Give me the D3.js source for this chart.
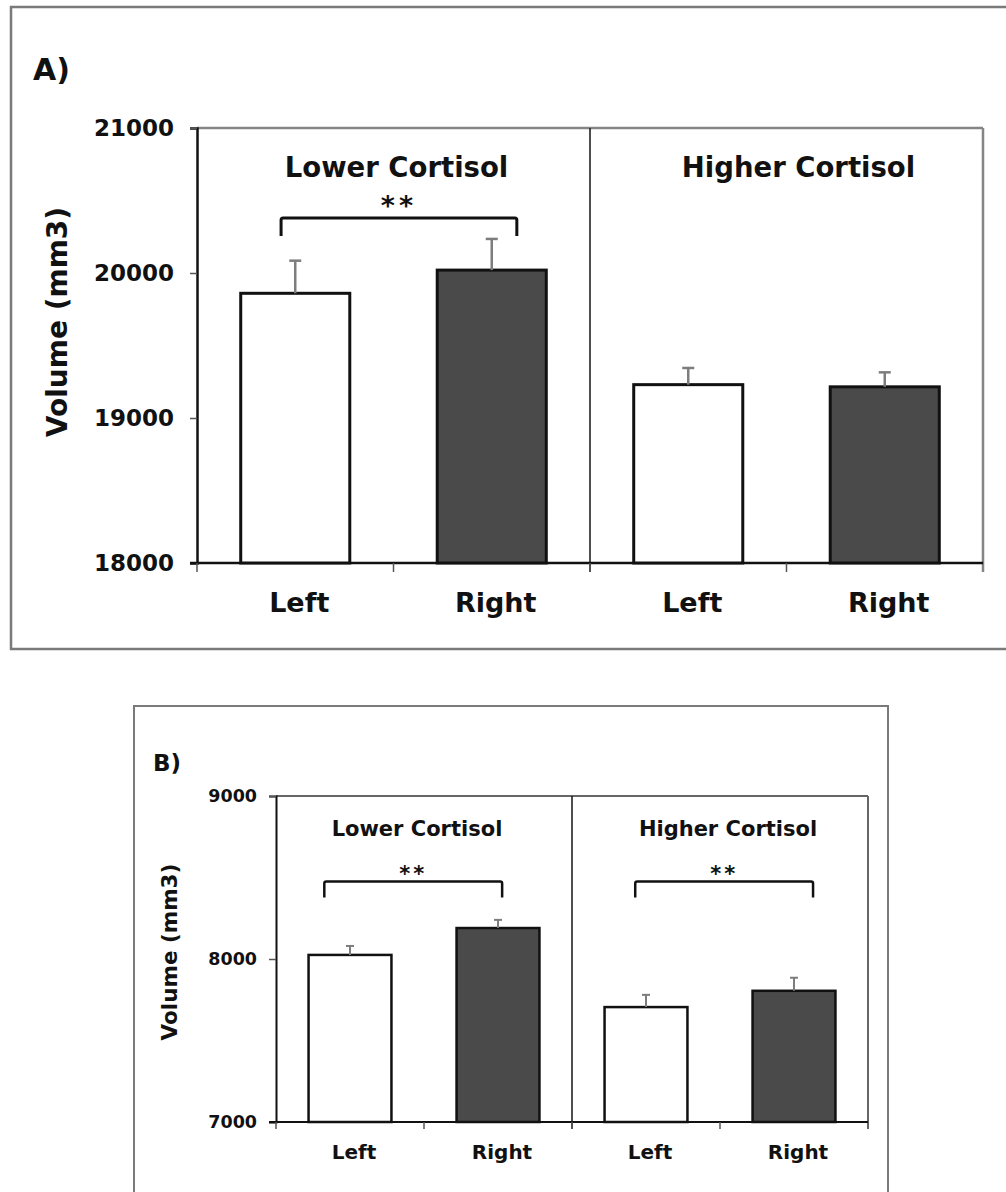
<!DOCTYPE html>
<html>
<head>
<meta charset="utf-8">
<script src="https://cdn.jsdelivr.net/npm/d3@7"></script>
<style>
  body { margin: 0; background: #fff; }
  svg { display: block; }
  text { font-family: "DejaVu Sans", Verdana, sans-serif; font-weight: bold; fill: #111; }
</style>
</head>
<body>
<svg id="chart" width="1006" height="1192"></svg>
<script>
// ---- data ----
const groups = ["Lower Cortisol", "Higher Cortisol"];
const sides = ["Left", "Right"];
const sideFills = ["#ffffff", "#4a4a4a"];
const yLabel = "Volume (mm3)";

// Panel A: volumes (mm3), mean and standard error per group x side
const meansA = [19860, 20020, 19230, 19215];
const errorsA = [225, 215, 115, 100];
const ticksA = [18000, 19000, 20000, 21000];
const significantA = [true, false];

// Panel B
const meansB = [8025, 8190, 7705, 7805];
const errorsB = [55, 50, 75, 80];
const ticksB = [7000, 8000, 9000];
const significantB = [true, true];

const svg = d3.select("#chart");

function drawPanel(cfg) {
  const g = svg.append("g");
  const { plot } = cfg;

  // outer frame of the panel
  g.append("rect")
    .attr("x", cfg.frame.x).attr("y", cfg.frame.y)
    .attr("width", cfg.frame.w).attr("height", cfg.frame.h)
    .attr("fill", "none").attr("stroke", "#7a7a7a").attr("stroke-width", cfg.frameStroke);

  // panel letter
  g.append("text").attr("x", cfg.letter.x).attr("y", cfg.letter.y)
    .attr("font-size", cfg.fs.letter).text(cfg.letter.text);

  // one band per group x side
  const rows = [];
  groups.forEach((grp, gi) => sides.forEach((s, si) => {
    const i = gi * sides.length + si;
    rows.push({ key: grp + "|" + s, group: gi, side: si, label: s,
                mean: cfg.means[i], err: cfg.errors[i] });
  }));

  const x = d3.scaleBand()
    .domain(rows.map(d => d.key))
    .range([plot.left, plot.right])
    .paddingInner(cfg.barPad).paddingOuter(cfg.barPad / 2);
  const xCell = d3.scaleBand()
    .domain(rows.map(d => d.key))
    .range([plot.left, plot.right]).padding(0);
  const y = d3.scaleLinear().domain(cfg.domain).range([plot.bottom, plot.top]);

  // top and right edges of the plot area
  g.append("line")
    .attr("x1", plot.left).attr("x2", plot.right)
    .attr("y1", plot.top).attr("y2", plot.top)
    .attr("stroke", cfg.edgeColor).attr("stroke-width", cfg.edgeStroke);
  g.append("line")
    .attr("x1", plot.right).attr("x2", plot.right)
    .attr("y1", plot.top).attr("y2", plot.bottom + cfg.xTick)
    .attr("stroke", cfg.edgeColor).attr("stroke-width", cfg.edgeStroke);

  // divider between the two cortisol groups
  const divX = xCell(rows[sides.length].key);
  g.append("line")
    .attr("x1", divX).attr("x2", divX)
    .attr("y1", plot.top).attr("y2", plot.bottom + cfg.xTick)
    .attr("stroke", "#222").attr("stroke-width", 1.6);

  // y axis
  const yAxis = g.append("g")
    .attr("transform", `translate(${plot.left},0)`)
    .call(d3.axisLeft(y).tickValues(cfg.ticks).tickSize(cfg.yTick)
      .tickPadding(cfg.tickPad).tickFormat(d3.format("d")));
  yAxis.select(".domain").attr("stroke", "#111").attr("stroke-width", cfg.axisStroke);
  yAxis.selectAll(".tick line").attr("stroke", "#555").attr("stroke-width", 1.5);
  yAxis.selectAll(".tick text")
    .attr("font-size", cfg.fs.tick).attr("font-family", "DejaVu Sans, Verdana, sans-serif")
    .attr("font-weight", "bold").attr("fill", "#111");

  // x axis baseline and category boundary ticks
  g.append("line")
    .attr("x1", plot.left - cfg.yTick).attr("x2", plot.right)
    .attr("y1", plot.bottom).attr("y2", plot.bottom)
    .attr("stroke", "#111").attr("stroke-width", cfg.axisStroke);
  g.selectAll(".xtick").data(rows.slice(1)).join("line")
    .attr("x1", d => xCell(d.key)).attr("x2", d => xCell(d.key))
    .attr("y1", plot.bottom).attr("y2", plot.bottom + cfg.xTick)
    .attr("stroke", "#555").attr("stroke-width", 1.5);
  g.append("line")
    .attr("x1", plot.left).attr("x2", plot.left)
    .attr("y1", plot.bottom).attr("y2", plot.bottom + cfg.xTick)
    .attr("stroke", "#555").attr("stroke-width", 1.5);

  // bars
  g.selectAll(".bar").data(rows).join("rect")
    .attr("x", d => x(d.key)).attr("width", x.bandwidth())
    .attr("y", d => y(d.mean)).attr("height", d => y(cfg.domain[0]) - y(d.mean))
    .attr("fill", d => sideFills[d.side])
    .attr("stroke", "#111").attr("stroke-width", cfg.barStroke);

  // error bars (upper half only)
  const cx = d => x(d.key) + x.bandwidth() / 2;
  g.selectAll(".err").data(rows).join("line")
    .attr("x1", cx).attr("x2", cx)
    .attr("y1", d => y(d.mean)).attr("y2", d => y(d.mean + d.err))
    .attr("stroke", "#7d7d7d").attr("stroke-width", cfg.errStroke);
  g.selectAll(".cap").data(rows).join("line")
    .attr("x1", d => cx(d) - cfg.cap / 2).attr("x2", d => cx(d) + cfg.cap / 2)
    .attr("y1", d => y(d.mean + d.err)).attr("y2", d => y(d.mean + d.err))
    .attr("stroke", "#7d7d7d").attr("stroke-width", cfg.errStroke);

  // category labels
  g.selectAll(".xlab").data(rows).join("text")
    .attr("x", d => cx(d) + cfg.xLabDx).attr("y", plot.bottom + cfg.xLabOffset)
    .attr("text-anchor", "middle").attr("font-size", cfg.fs.xlab)
    .text(d => d.label);

  // group titles
  groups.forEach((grp, gi) => {
    const a = xCell(rows[gi * sides.length].key);
    const b = gi === groups.length - 1 ? plot.right : xCell(rows[(gi + 1) * sides.length].key);
    g.append("text")
      .attr("x", (a + b) / 2 + cfg.titleDx[gi]).attr("y", plot.top + cfg.titleOffset)
      .attr("text-anchor", "middle").attr("font-size", cfg.fs.title).text(grp);
  });

  // significance brackets
  cfg.significant.forEach((sig, gi) => {
    if (!sig) return;
    const l = rows[gi * sides.length], r = rows[gi * sides.length + 1];
    const x1 = x(l.key) + x.bandwidth() * cfg.bracketFrac[gi][0];
    const x2 = x(r.key) + x.bandwidth() * cfg.bracketFrac[gi][1];
    const by = y(cfg.bracketLevel);
    g.append("path")
      .attr("d", `M${x1},${by + cfg.bracketDrop} V${by + 2} Q${x1},${by} ${x1 + 2},${by} H${x2 - 2} Q${x2},${by} ${x2},${by + 2} V${by + cfg.bracketDrop}`)
      .attr("fill", "none").attr("stroke", "#111").attr("stroke-width", cfg.bracketStroke);
    g.append("text")
      .attr("x", (x1 + x2) / 2).attr("y", by + cfg.starDy)
      .attr("text-anchor", "middle").attr("font-size", cfg.fs.stars)
      .attr("font-weight", "normal").attr("letter-spacing", cfg.starSpacing)
      .text("**");
  });

  // y axis title
  g.append("text")
    .attr("transform", `translate(${cfg.yLab.x},${cfg.yLab.y}) rotate(-90)`)
    .attr("text-anchor", "middle").attr("dominant-baseline", "central")
    .attr("font-size", cfg.fs.ylab).text(yLabel);
}

drawPanel({
  frame: { x: 11, y: 7, w: 1010, h: 642 }, frameStroke: 2.5,
  plot: { left: 197, right: 983, top: 128, bottom: 563 },
  letter: { x: 33, y: 80, text: "A)" },
  means: meansA, errors: errorsA, ticks: ticksA, domain: [18000, 21000],
  significant: significantA,
  barPad: 0.445, barStroke: 3, errStroke: 2.5, cap: 12,
  edgeColor: "#858585", edgeStroke: 2.5, axisStroke: 2.5,
  yTick: 7, xTick: 9, tickPad: 16,
  fs: { letter: 30, tick: 23, ylab: 28, title: 27.5, xlab: 27, stars: 27 },
  xLabOffset: 49, xLabDx: 4, titleOffset: 49, titleDx: [3, 12],
  bracketLevel: 20380, bracketDrop: 18, bracketStroke: 3, bracketFrac: [[0.37, 0.73], [0.37, 0.73]],
  starDy: -3, starSpacing: 4,
  yLab: { x: 57, y: 322 }
});

drawPanel({
  frame: { x: 134, y: 706, w: 754, h: 520 }, frameStroke: 2,
  plot: { left: 276, right: 868, top: 796, bottom: 1122 },
  letter: { x: 153, y: 771, text: "B)" },
  means: meansB, errors: errorsB, ticks: ticksB, domain: [7000, 9000],
  significant: significantB,
  barPad: 0.44, barStroke: 2.5, errStroke: 2, cap: 8,
  edgeColor: "#666", edgeStroke: 2, axisStroke: 2,
  yTick: 7, xTick: 7, tickPad: 12,
  fs: { letter: 23, tick: 17.5, ylab: 21.5, title: 21, xlab: 20, stars: 21 },
  xLabOffset: 37, xLabDx: 4, titleOffset: 40, titleDx: [-7, 8],
  bracketLevel: 8475, bracketDrop: 16, bracketStroke: 2.5, bracketFrac: [[0.19, 0.55], [0.37, 0.73]],
  starDy: -1, starSpacing: 3,
  yLab: { x: 169, y: 952 }
});
</script>
</body>
</html>
